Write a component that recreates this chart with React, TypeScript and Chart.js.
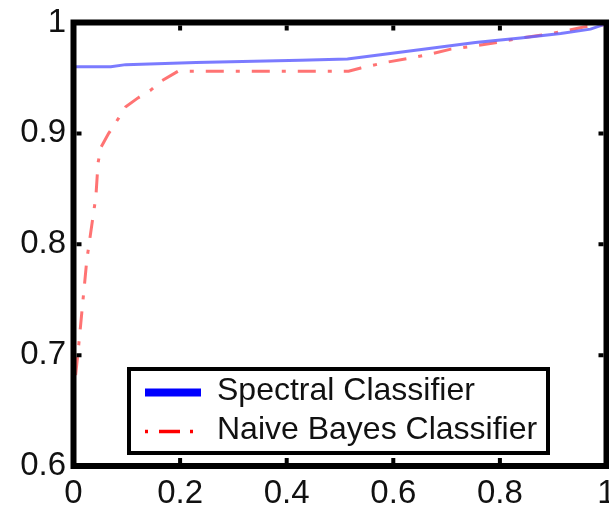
import { useEffect, useRef } from "react";
import { Chart, registerables } from "chart.js";
Chart.register(...registerables);

const spectralX = [0, 0.07, 0.098, 0.23, 0.426, 0.514, 0.576, 0.66, 0.754, 0.839, 0.914, 0.97, 1.0];
const spectralY = [0.96, 0.96, 0.962, 0.964, 0.966, 0.967, 0.971, 0.976, 0.982, 0.986, 0.99, 0.994, 0.999];
const bayesX = [0.004, 0.008, 0.025, 0.042, 0.046, 0.051, 0.066, 0.085, 0.098, 0.121, 0.145, 0.164, 0.196, 0.426, 0.516, 0.539, 0.586, 0.666, 0.708, 0.754, 0.796, 0.839, 0.882, 0.92, 0.957, 0.998];
const bayesY = [0.682, 0.7, 0.786, 0.843, 0.873, 0.887, 0.9, 0.914, 0.924, 0.932, 0.939, 0.947, 0.956, 0.956, 0.956, 0.959, 0.964, 0.971, 0.976, 0.979, 0.982, 0.986, 0.989, 0.992, 0.996, 0.998];
const xTicks = [0, 0.2, 0.4, 0.6, 0.8, 1];
const xTickLabels = ["0", "0.2", "0.4", "0.6", "0.8", "1"];
const yTicks = [0.6, 0.7, 0.8, 0.9, 1];
const yTickLabels = ["0.6", "0.7", "0.8", "0.9", "1"];
const seriesNames = ["Spectral Classifier", "Naive Bayes Classifier"];

const FONT = '33px "Liberation Sans", Arial, sans-serif';
const LEGEND_FONT = '32px "Liberation Sans", Arial, sans-serif';

const framePlugin = {
  id: "framePlugin",
  afterDatasetsDraw(chart: any) {
    const ctx = chart.ctx;
    ctx.save();
    // legend box
    ctx.fillStyle = "#fff";
    ctx.fillRect(129, 369, 419, 84);
    ctx.strokeStyle = "#000";
    ctx.lineWidth = 4;
    ctx.strokeRect(129, 369, 419, 84);
    // row 1
    ctx.strokeStyle = "#0000ff";
    ctx.lineWidth = 8;
    ctx.setLineDash([]);
    ctx.beginPath();
    ctx.moveTo(145, 392.5);
    ctx.lineTo(201, 392.5);
    ctx.stroke();
    // row 2
    ctx.strokeStyle = "#ff0000";
    ctx.lineWidth = 3.5;
    ctx.setLineDash([3, 11, 21, 10]);
    ctx.beginPath();
    ctx.moveTo(145, 431.5);
    ctx.lineTo(198, 431.5);
    ctx.stroke();
    ctx.setLineDash([]);
    ctx.fillStyle = "#111";
    ctx.font = LEGEND_FONT;
    ctx.textAlign = "left";
    ctx.textBaseline = "middle";
    ctx.fillText(seriesNames[0], 217, 391);
    ctx.fillText(seriesNames[1], 217, 430);
    ctx.restore();
  },
  afterDraw(chart: any) {
    const { ctx, chartArea: a, scales } = chart;
    ctx.save();
    ctx.strokeStyle = "#000";
    ctx.lineWidth = 6;
    ctx.strokeRect(a.left, a.top, a.right - a.left, a.bottom - a.top);
    ctx.lineWidth = 4;
    ctx.beginPath();
    xTicks.forEach((v) => {
      if (v === xTicks[0] || v === xTicks[xTicks.length - 1]) return;
      const px = scales.x.getPixelForValue(v);
      ctx.moveTo(px, a.bottom - 3);
      ctx.lineTo(px, a.bottom - 8);
      ctx.moveTo(px, a.top + 3);
      ctx.lineTo(px, a.top + 8);
    });
    yTicks.forEach((v) => {
      if (v === yTicks[0] || v === yTicks[yTicks.length - 1]) return;
      const py = scales.y.getPixelForValue(v);
      ctx.moveTo(a.left + 3, py);
      ctx.lineTo(a.left + 8, py);
      ctx.moveTo(a.right - 3, py);
      ctx.lineTo(a.right - 8, py);
    });
    ctx.stroke();
    ctx.fillStyle = "#111";
    ctx.font = FONT;
    ctx.textAlign = "center";
    ctx.textBaseline = "middle";
    xTicks.forEach((v, i) => {
      ctx.fillText(xTickLabels[i], scales.x.getPixelForValue(v), 494);
    });
    ctx.textAlign = "right";
    yTicks.forEach((v, i) => {
      ctx.fillText(yTickLabels[i], 66, scales.y.getPixelForValue(v));
    });
    ctx.restore();
  },
};

export default function App() {
  const ref = useRef<HTMLCanvasElement | null>(null);
  useEffect(() => {
    if (!ref.current) return;
    const chart = new Chart(ref.current, {
      type: "line",
      data: {
        datasets: [
          {
            label: seriesNames[0],
            data: spectralX.map((x, i) => ({ x, y: spectralY[i] })),
            borderColor: "rgba(100,100,255,0.85)",
            borderWidth: 3,
            pointRadius: 0,
            tension: 0,
          },
          {
            label: seriesNames[1],
            data: bayesX.map((x, i) => ({ x, y: bayesY[i] })),
            borderColor: "rgba(255,90,90,0.85)",
            borderWidth: 3,
            borderDash: [18, 12, 4, 12],
            pointRadius: 0,
            tension: 0,
          },
        ],
      },
      options: {
        responsive: false,
        animation: false,
        layout: { padding: { left: 73.5, right: 2.5, top: 22.5, bottom: 46 } },
        scales: {
          x: { type: "linear", min: 0, max: 1, display: false },
          y: { type: "linear", min: 0.6, max: 1, display: false },
        },
        plugins: { legend: { display: false }, tooltip: { enabled: false } },
      },
      plugins: [framePlugin],
    });
    return () => chart.destroy();
  }, []);
  return (
    <div style={{ position: "fixed", left: 0, top: 0, width: 609, height: 512, overflow: "hidden", background: "#fff" }}>
      <canvas ref={ref} width={609} height={512} style={{ width: 609, height: 512 }} />
    </div>
  );
}
